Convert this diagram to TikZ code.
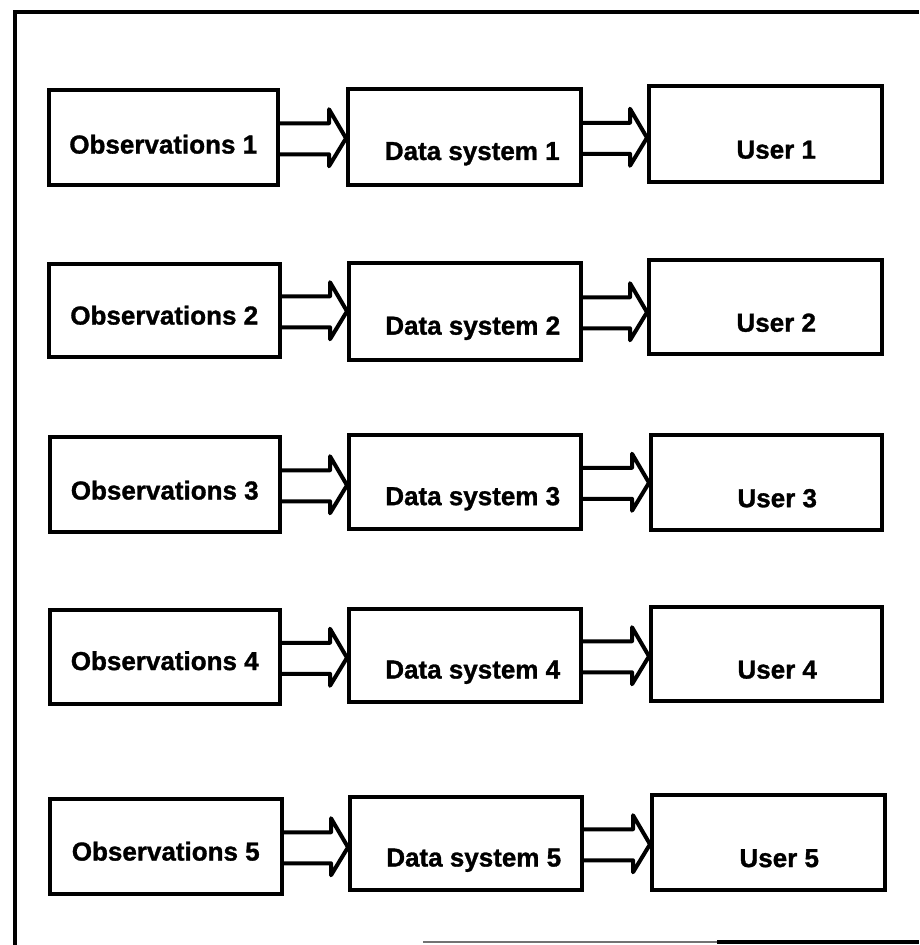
\documentclass[tikz,border=0pt]{standalone}
\usepackage{fontspec}
\setmainfont{Liberation Sans}[BoldFeatures={FakeBold=1.2}]
\usetikzlibrary{calc}
\newcommand\blkarr[2]{%
  \draw[blockarr] ($(#1.east)+(0,-14)$)
    -- ($(#2.west |- #1.east)+(-17,-14)$)
    -- ($(#2.west |- #1.east)+(-17,-28)$)
    -- ($(#2.west |- #1.east)+(0,1)$)
    -- ($(#2.west |- #1.east)+(-17,29)$)
    -- ($(#2.west |- #1.east)+(-17,17)$)
    -- ($(#1.east)+(0,17)$);}
\begin{document}
\begin{tikzpicture}[x=1pt,y=-1pt,
  box/.style={draw, line width=3.5pt, rectangle, inner sep=0pt, anchor=north west},
  lbl/.style={font=\fontsize{26}{30}\selectfont\bfseries, inner sep=0pt},
  blockarr/.style={line width=4pt, line join=round},
  frame/.style={line width=3.5pt}]
\useasboundingbox (0,0) rectangle (919,945);
% frame
\draw[frame] (15,945) -- (15,12) -- (919,12);
\draw[line width=2pt, black!55] (423,942) -- (717,942);
\draw[frame] (717,942) -- (919,942);
% row 1
\node[box, minimum width=229, minimum height=95] (o1) at (47,88) {};
\node[box, minimum width=233, minimum height=96] (d1) at (346,87) {};
\node[box, minimum width=233, minimum height=96] (u1) at (647,84) {};
% row 2
\node[box, minimum width=231, minimum height=93] (o2) at (47,262) {};
\node[box, minimum width=232, minimum height=97] (d2) at (347,261) {};
\node[box, minimum width=233, minimum height=94] (u2) at (647,258) {};
% row 3
\node[box, minimum width=230, minimum height=95] (o3) at (48,435) {};
\node[box, minimum width=232, minimum height=94] (d3) at (347,433) {};
\node[box, minimum width=231, minimum height=95] (u3) at (649,433) {};
% row 4
\node[box, minimum width=230, minimum height=94] (o4) at (48,608) {};
\node[box, minimum width=232, minimum height=93] (d4) at (347,607) {};
\node[box, minimum width=231, minimum height=94] (u4) at (649,605) {};
% row 5
\node[box, minimum width=232, minimum height=95] (o5) at (48,797) {};
\node[box, minimum width=232, minimum height=93] (d5) at (348,795) {};
\node[box, minimum width=233, minimum height=95] (u5) at (650,793) {};
% labels
\foreach \i/\oy in {1/7,2/5,3/6,4/4,5/5}{
  \node[lbl] (to\i) at ($(o\i.center)+(0,\oy)$) {Observations \i};
  \node[lbl] (td\i) at ($(d\i.center)+(8,17)$) {Data system \i};
  \node[lbl] (tu\i) at ($(u\i.center)+(11,16)$) {User \i};
}
% arrows
\foreach \i in {1,...,5}{
  \blkarr{o\i}{d\i}
  \blkarr{d\i}{u\i}
}
\end{tikzpicture}
\end{document}
